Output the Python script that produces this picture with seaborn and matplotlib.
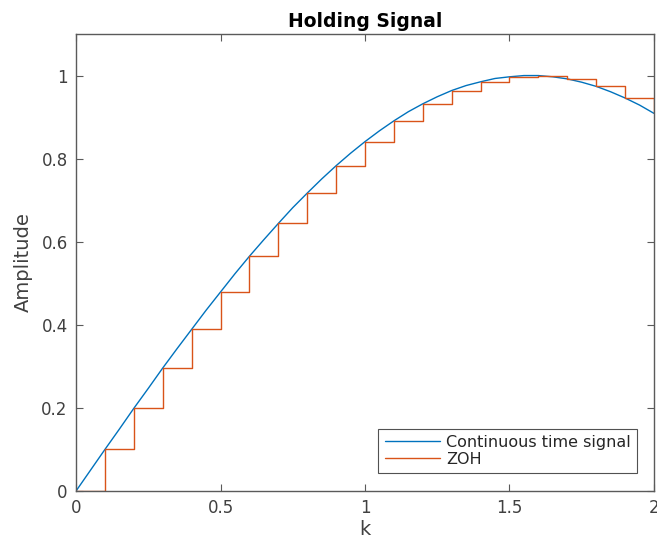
import numpy as np
import pandas as pd
import matplotlib
matplotlib.use("Agg")
import matplotlib.pyplot as plt
import seaborn as sns

# Continuous time signal
t_cont = [0.00, 0.05, 0.10, 0.15, 0.20, 0.25, 0.30, 0.35, 0.40, 0.45, 0.50,
          0.55, 0.60, 0.65, 0.70, 0.75, 0.80, 0.85, 0.90, 0.95, 1.00,
          1.05, 1.10, 1.15, 1.20, 1.25, 1.30, 1.35, 1.40, 1.45, 1.50,
          1.55, 1.60, 1.65, 1.70, 1.75, 1.80, 1.85, 1.90, 1.95, 2.00]
y_cont = [0.000, 0.050, 0.100, 0.149, 0.199, 0.247, 0.296, 0.343, 0.389, 0.435, 0.479,
          0.523, 0.565, 0.605, 0.644, 0.682, 0.717, 0.751, 0.783, 0.813, 0.841,
          0.867, 0.891, 0.913, 0.932, 0.949, 0.964, 0.976, 0.985, 0.993, 0.997,
          1.000, 1.000, 0.997, 0.992, 0.984, 0.974, 0.961, 0.946, 0.929, 0.909]

# ZOH samples
t_zoh = [0.0, 0.1, 0.2, 0.3, 0.4, 0.5, 0.6, 0.7, 0.8, 0.9, 1.0,
         1.1, 1.2, 1.3, 1.4, 1.5, 1.6, 1.7, 1.8, 1.9, 2.0]
y_zoh = [0.000, 0.100, 0.199, 0.296, 0.389, 0.479, 0.565, 0.644, 0.717, 0.783, 0.841,
         0.891, 0.932, 0.964, 0.985, 0.997, 1.000, 0.992, 0.974, 0.946, 0.909]

x_ticks = [0, 0.5, 1, 1.5, 2]
x_tick_labels = ["0", "0.5", "1", "1.5", "2"]
y_ticks = [0, 0.2, 0.4, 0.6, 0.8, 1.0]
y_tick_labels = ["0", "0.2", "0.4", "0.6", "0.8", "1"]

sns.set_style("white")
plt.rcParams['font.family'] = ['DejaVu Sans']

fig = plt.figure(figsize=(6.57, 5.46), dpi=100)
ax = fig.add_axes([0.1157, 0.1007, 0.8797, 0.837])

df_c = pd.DataFrame({"k": t_cont, "Amplitude": y_cont})
df_z = pd.DataFrame({"k": t_zoh, "Amplitude": y_zoh})

sns.lineplot(data=df_c, x="k", y="Amplitude", ax=ax, color="#0072BD", lw=1.0,
             label="Continuous time signal", sort=False)
sns.lineplot(data=df_z, x="k", y="Amplitude", ax=ax, color="#D95319", lw=1.0,
             label="ZOH", drawstyle="steps-post", sort=False)

ax.set_xlim(0, 2)
ax.set_ylim(0, 1.1)
ax.set_xticks(x_ticks)
ax.set_xticklabels(x_tick_labels)
ax.set_yticks(y_ticks)
ax.set_yticklabels(y_tick_labels)

spine_col = "#5a5a5a"
for s in ax.spines.values():
    s.set_visible(True)
    s.set_color(spine_col)
    s.set_linewidth(1.0)
ax.tick_params(direction="in", length=5, width=0.8, colors=spine_col,
               labelcolor="#404040", labelsize=12, top=True, right=True,
               bottom=True, left=True, pad=6)

ax.set_xlabel("k", fontsize=14, color="#404040", labelpad=2)
ax.set_ylabel("Amplitude", fontsize=14, color="#404040", labelpad=6)
ax.set_title("Holding Signal", fontsize=13.5, fontweight="bold", pad=5, color="black")

leg = ax.legend(loc="lower right", fontsize=11.5, frameon=True, fancybox=False,
                handlelength=3.5, handletextpad=0.35, borderpad=0.4,
                labelspacing=0.12, bbox_to_anchor=(0.971, 0.039), borderaxespad=0)
leg.get_frame().set_edgecolor("#262626")
leg.get_frame().set_linewidth(0.8)
for txt in leg.get_texts():
    txt.set_color("#262626")

fig.savefig("out.png", dpi=100)
